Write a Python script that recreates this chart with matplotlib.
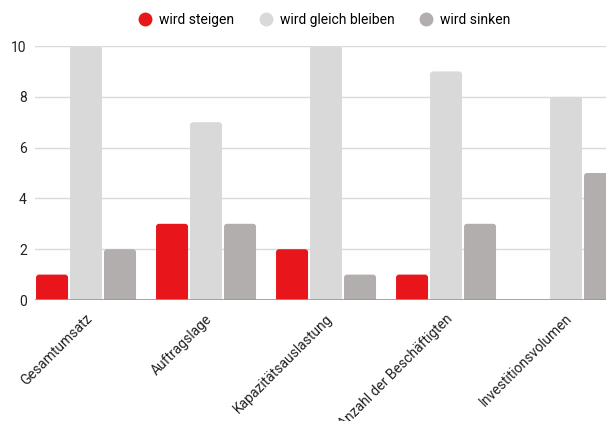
import matplotlib.pyplot as plt
import numpy as np
from matplotlib.patches import FancyBboxPatch
from matplotlib.lines import Line2D

plt.rcParams['font.family'] = ['Roboto', 'DejaVu Sans']

categories = ["Gesamtumsatz", "Auftragslage", "Kapazitätsauslastung",
              "Anzahl der Beschäftigten", "Investitionsvolumen"]
series_names = ["wird steigen", "wird gleich bleiben", "wird sinken"]
steigen = [1, 3, 2, 1, 0]
gleich = [10, 7, 10, 9, 8]
sinken = [2, 3, 1, 3, 5]
colors = ["#e8161b", "#d9d9d9", "#b3aeae"]

fig = plt.figure(figsize=(6.06, 4.21), dpi=100)
ax = fig.add_axes([0.0578, 0.2874, 0.9422, 0.6033])
ax.set_xlim(-0.425, 4.333)
ax.set_ylim(0, 10)

x = np.arange(len(categories))
width = 0.2667
step = 0.2833
r = 0.025
aspect = 4.72

for i, (vals, col) in enumerate(zip([steigen, gleich, sinken], colors)):
    for xi, v in zip(x, vals):
        if v <= 0:
            continue
        left = xi + (i - 1) * step - width / 2
        p = FancyBboxPatch((left, -0.3), width, v + 0.3,
                           boxstyle=f"round,pad=0,rounding_size={r}",
                           mutation_aspect=aspect, facecolor=col,
                           edgecolor="none", zorder=3)
        ax.add_patch(p)

ax.set_yticks([0, 2, 4, 6, 8, 10])
ax.grid(axis="y", color="#d9d9d9", linewidth=1, zorder=0)
ax.axhline(0, color="#999999", linewidth=1.2, zorder=4)
for s in ax.spines.values():
    s.set_visible(False)
ax.tick_params(axis="both", length=0, labelsize=10, colors="#222222")
ax.tick_params(axis="y", pad=6)
ax.set_xticks(x)
ax.set_xticklabels([])

for xi, name in zip(x, categories):
    ax.annotate(name, xy=(xi, 0), xycoords="data",
                xytext=(3, -12), textcoords="offset points",
                rotation=45, ha="right", va="center", rotation_mode="anchor",
                fontsize=10, color="#222222", annotation_clip=False)

handles = [Line2D([], [], marker="o", linestyle="none", markersize=10,
                  markerfacecolor=c, markeredgecolor="none") for c in colors]
fig.legend(handles, series_names, loc="center", bbox_to_anchor=(0.535, 0.952),
           ncol=3, frameon=False, fontsize=10, handletextpad=0.5,
           columnspacing=1.8, handlelength=1.0)

fig.savefig("out.png", dpi=100)
